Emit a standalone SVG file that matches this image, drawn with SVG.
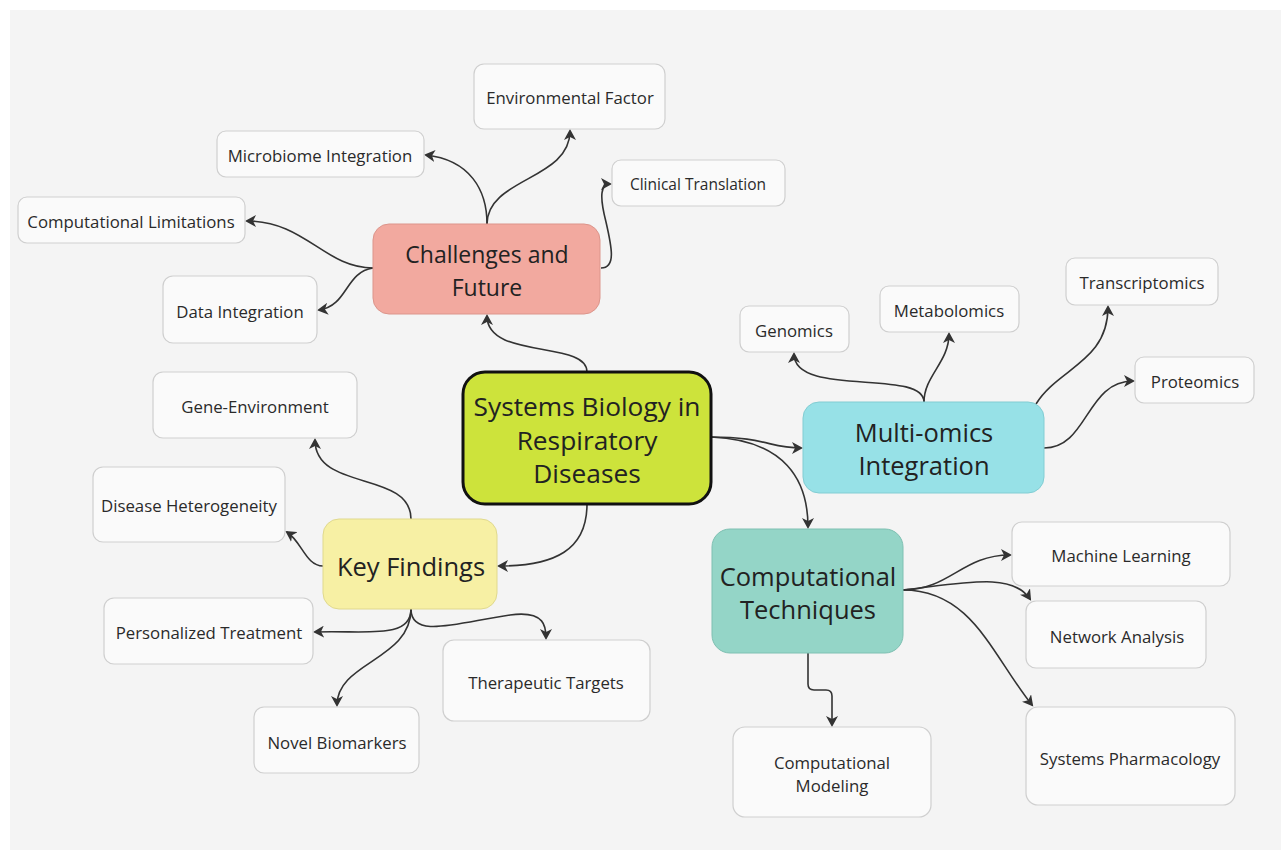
<svg xmlns="http://www.w3.org/2000/svg" width="1281" height="850" viewBox="0 0 1281 850">
<defs>
<marker id="ah" markerWidth="12" markerHeight="12" refX="9" refY="6" orient="auto" markerUnits="userSpaceOnUse">
<path d="M0,0 L11,6 L0,12 L3,6 z" fill="#333"/>
</marker>
<style>
.bg{fill:#f4f4f4}
.leaf rect{fill:#fafafa;stroke:#cfcfcf;stroke-width:1.2}
.leaf text{font-family:"Open Sans","Noto Sans",sans-serif;font-size:16.8px;fill:#2a2a2a;text-anchor:middle;dominant-baseline:central}
.main text{font-family:"Open Sans","Noto Sans",sans-serif;font-size:25.5px;fill:#222;text-anchor:middle;dominant-baseline:central}
.conn path{fill:none;stroke:#333;stroke-width:1.6;marker-end:url(#ah)}
</style>
</defs>
<rect x="0" y="0" width="1281" height="850" fill="#ffffff"/>
<rect class="bg" x="10" y="10" width="1271" height="840"/>

<g class="conn">
<path d="M587,372 C587,340 487,360 487,316"/>
<path d="M711,437 C765,437 770,448 801,448"/>
<path d="M711,437 C785,440 808,480 808,527"/>
<path d="M587,504 C587,550 555,566 499,566"/>
<path d="M487,224 C487,190 470,160 426,155"/>
<path d="M487,224 C487,178 570,180 570,131"/>
<path d="M601,268 C616,268 612,248 606,222 C599,195 601,184 610,184"/>
<path d="M373,268 C325,268 305,221 247,221"/>
<path d="M373,268 C345,272 348,306 319,310"/>
<path d="M924,402 C924,368 794,398 794,354"/>
<path d="M924,402 C924,376 949,362 949,334"/>
<path d="M1036,404 C1058,368 1108,362 1108,307"/>
<path d="M1044,448 C1088,448 1086,381 1133,381"/>
<path d="M903,590 C950,590 962,555 1010,555"/>
<path d="M903,590 C965,583 1012,572 1030,599"/>
<path d="M903,590 C972,590 992,655 1032,705"/>
<path d="M808,653 L808,684 Q808,690 814,690 L826,690 Q832,690 832,696 L832,725"/>
<path d="M411,519 C411,470 315,492 315,440"/>
<path d="M323,566 C306,566 302,542 287,532"/>
<path d="M411,609 C411,640 365,630 315,632"/>
<path d="M411,609 C411,640 460,622 510,615 C546,610 546,628 546,638"/>
<path d="M411,609 C411,660 337,662 337,705"/>
</g>

<g id="central" class="main">
<rect x="463" y="372" width="248" height="132" rx="22" fill="#cde33b" stroke="#111" stroke-width="3"/>
<text x="587" y="406" style="font-size:26.3px">Systems Biology in</text>
<text x="587" y="440" style="font-size:26.3px">Respiratory</text>
<text x="587" y="473" style="font-size:26.3px">Diseases</text>
</g>
<g id="challenges" class="main">
<rect x="373" y="224" width="227" height="90" rx="16" fill="#f2a99f" stroke="#dc958b" stroke-width="1"/>
<text x="487" y="254" style="font-size:23px">Challenges and</text>
<text x="487" y="287" style="font-size:23px">Future</text>
</g>
<g id="multiomics" class="main">
<rect x="803" y="402" width="241" height="91" rx="16" fill="#97e1e7" stroke="#82cdd3" stroke-width="1"/>
<text x="924" y="432">Multi-omics</text>
<text x="924" y="465">Integration</text>
</g>
<g id="comptech" class="main">
<rect x="712" y="529" width="191" height="124" rx="18" fill="#94d5c7" stroke="#7fc0b2" stroke-width="1"/>
<text x="808" y="576">Computational</text>
<text x="808" y="609">Techniques</text>
</g>
<g id="keyfindings" class="main">
<rect x="323" y="519" width="174" height="90" rx="16" fill="#f7f0a4" stroke="#e0d98e" stroke-width="1"/>
<text x="411" y="566">Key Findings</text>
</g>

<g id="envfactor" class="leaf"><rect x="474" y="64" width="191" height="65" rx="10"/><text x="570" y="97">Environmental Factor</text></g>
<g id="microbiome" class="leaf"><rect x="217" y="131" width="207" height="46" rx="9"/><text x="320" y="155">Microbiome Integration</text></g>
<g id="clinical" class="leaf"><rect x="612" y="160" width="173" height="46" rx="9"/><text x="698" y="184" style="font-size:15.5px">Clinical Translation</text></g>
<g id="complimits" class="leaf"><rect x="18" y="197" width="227" height="46" rx="9"/><text x="131" y="221">Computational Limitations</text></g>
<g id="dataint" class="leaf"><rect x="163" y="276" width="154" height="67" rx="10"/><text x="240" y="311">Data Integration</text></g>
<g id="genomics" class="leaf"><rect x="740" y="306" width="109" height="46" rx="9"/><text x="794" y="330">Genomics</text></g>
<g id="metabolomics" class="leaf"><rect x="880" y="286" width="139" height="46" rx="9"/><text x="949" y="310">Metabolomics</text></g>
<g id="transcriptomics" class="leaf"><rect x="1066" y="258" width="152" height="47" rx="9"/><text x="1142" y="282">Transcriptomics</text></g>
<g id="proteomics" class="leaf"><rect x="1135" y="357" width="119" height="46" rx="9"/><text x="1195" y="381">Proteomics</text></g>
<g id="geneenv" class="leaf"><rect x="153" y="372" width="204" height="66" rx="10"/><text x="255" y="406">Gene-Environment</text></g>
<g id="diseasehet" class="leaf"><rect x="93" y="467" width="192" height="75" rx="10"/><text x="189" y="505">Disease Heterogeneity</text></g>
<g id="personalized" class="leaf"><rect x="104" y="598" width="209" height="66" rx="10"/><text x="209" y="632">Personalized Treatment</text></g>
<g id="therapeutic" class="leaf"><rect x="443" y="640" width="207" height="81" rx="11"/><text x="546" y="682">Therapeutic Targets</text></g>
<g id="biomarkers" class="leaf"><rect x="254" y="707" width="165" height="66" rx="10"/><text x="337" y="742">Novel Biomarkers</text></g>
<g id="ml" class="leaf"><rect x="1012" y="522" width="218" height="64" rx="10"/><text x="1121" y="555">Machine Learning</text></g>
<g id="network" class="leaf"><rect x="1026" y="601" width="180" height="67" rx="10"/><text x="1117" y="636">Network Analysis</text></g>
<g id="syspharm" class="leaf"><rect x="1026" y="707" width="209" height="98" rx="12"/><text x="1130" y="758">Systems Pharmacology</text></g>
<g id="compmodel" class="leaf"><rect x="733" y="727" width="198" height="90" rx="12"/><text x="832" y="762">Computational</text><text x="832" y="785">Modeling</text></g>
</svg>
